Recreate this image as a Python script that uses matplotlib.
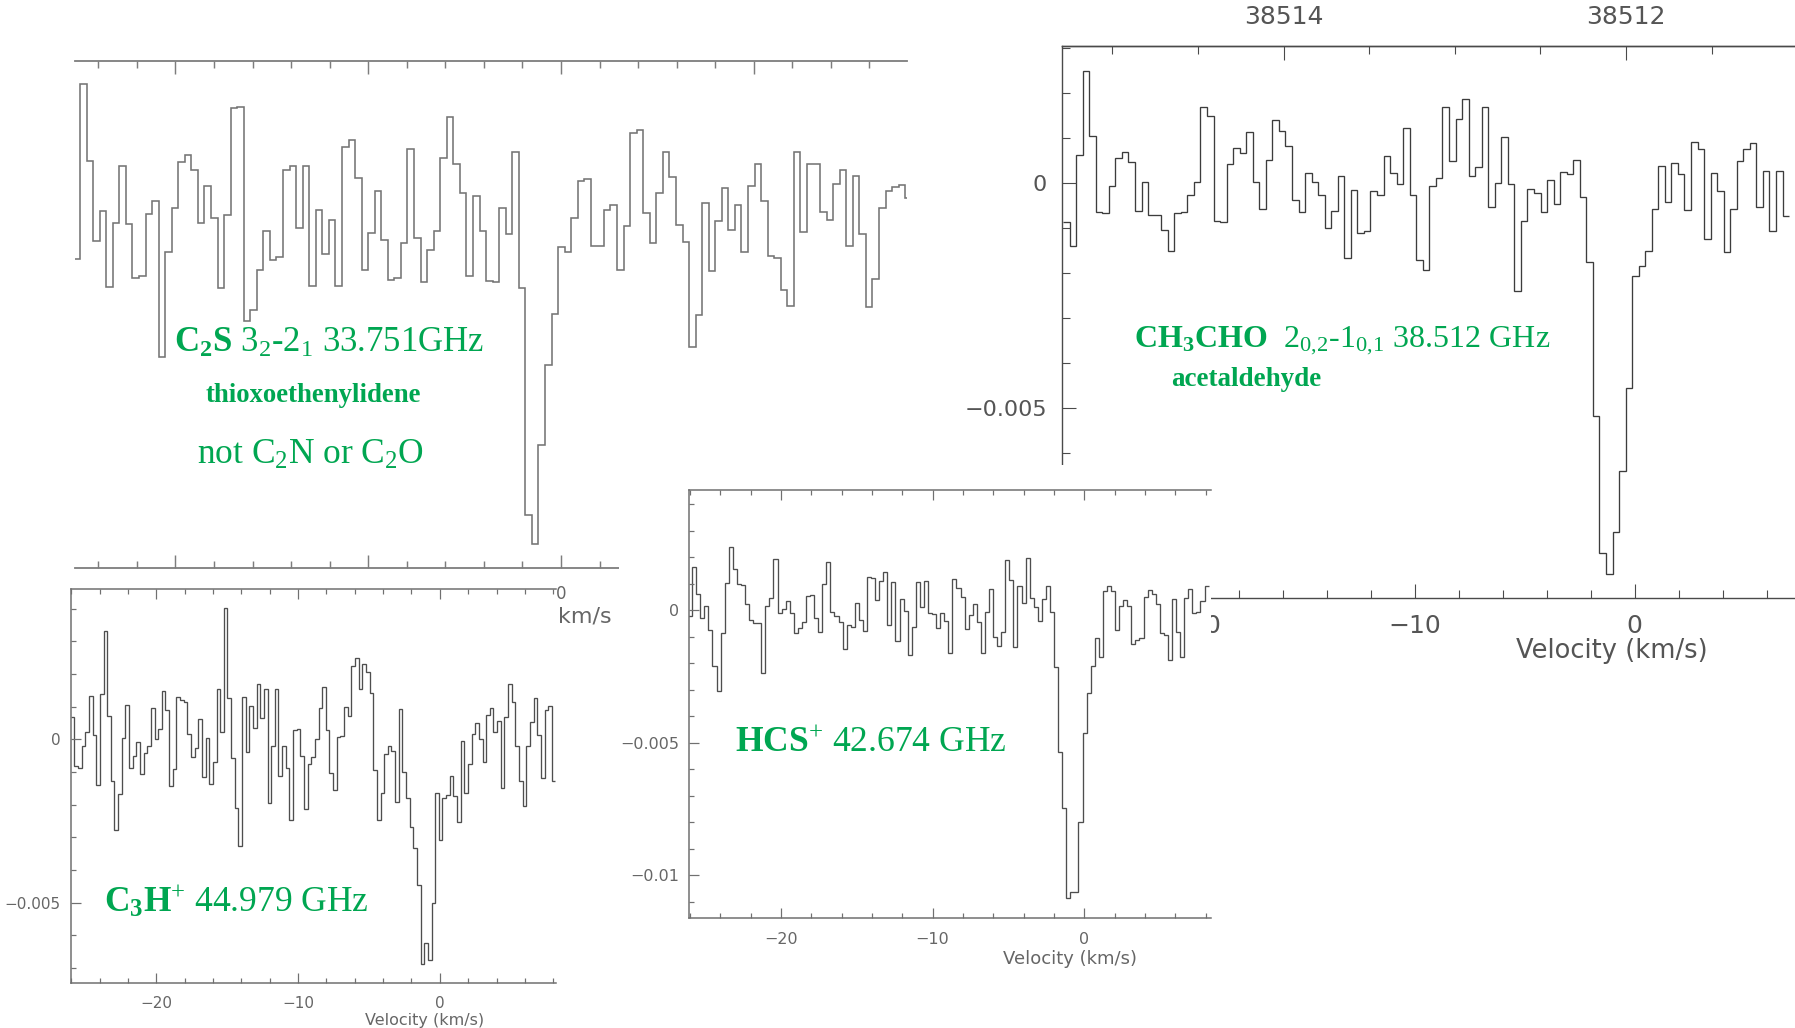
import numpy as np
import matplotlib
matplotlib.use("Agg")
import matplotlib.pyplot as plt
from matplotlib.ticker import MultipleLocator, FixedLocator, FixedFormatter

plt.rcParams['font.family'] = ['DejaVu Sans']
plt.rcParams['mathtext.fontset'] = 'custom'
plt.rcParams['mathtext.rm'] = 'Liberation Serif'
plt.rcParams['mathtext.it'] = 'Liberation Serif:italic'
plt.rcParams['mathtext.bf'] = 'Liberation Serif:bold'
plt.rcParams['axes.unicode_minus'] = True

W, H, DPI = 1795, 1028, 100
GREEN = '#00a651'
SERIF = 'Liberation Serif'

# ---------------- C2S 3_2-2_1, 33.751 GHz (relative units) ----------------
c2s_v0 = -25.12      # centre of first channel (km/s)
c2s_dv = 0.3397      # channel width (km/s)
c2s_T = [-0.23, 4.14, 2.21, 0.21, 0.96, -0.94, 0.67, 2.08, 0.64, -0.71,
         -0.67, 0.89, 1.21, -2.69, -0.07, 1.03, 2.19, 2.36, 2.00, 0.67,
         1.58, 0.79, -0.96, 0.86, 3.53, 3.56, -1.79, -1.50, -0.50, 0.46,
         -0.25, -0.18, 2.00, 2.08, 0.54, 2.08, -0.90, 0.98, -0.11, 0.73,
         -0.92, 2.57, 2.73, 1.79, -0.50, 0.42, 1.46, 0.25, -0.75, -0.71,
         0.17, 2.52, 0.29, -0.81, -0.02, 0.46, 2.28, 3.31, 2.13, 1.42,
         -0.67, 1.35, 0.46, -0.79, -0.82, 1.03, 0.40, 2.44, -0.96, -6.63,
         -7.36, -4.89, -2.89, -1.60, 0.07, -0.06, 0.79, 1.71, 1.77, 0.08,
         0.08, 1.00, 1.11, -0.52, 0.58, 2.92, 2.98, 0.92, 0.17, 1.42,
         2.44, 1.82, 0.61, 0.18, -2.42, -1.63, 1.17, -0.54, 0.71, 1.53,
         0.50, 1.11, -0.06, 1.60, 2.13, 1.21, -0.17, -0.21, -1.00, -1.40,
         2.44, 0.43, 2.15, 2.14, 0.93, 0.73, 1.63, 1.98, 0.10, 1.85,
         0.40, -1.43, -0.73, 1.04, 1.46, 1.57, 1.61, 1.29]
c2s_vticks = [-20, -10, 0, 10]
c2s_vlabels = ['\u221220', '\u221210', '0', '10']

# ---------------- CH3CHO 2(0,2)-1(0,1), 38.512 GHz ----------------
ch_v0 = -25.83
ch_dv = 0.2973
ch_T = [-0.00085, -0.00139, 0.00063, 0.00250, 0.00105, -0.00064, -0.00067, -0.00006, 0.00056, 0.00069,
        0.00048, -0.00061, 0.00004, -0.00070, -0.00070, -0.00104, -0.00150, -0.00065, -0.00063, -0.00026,
        0.00004, 0.00169, 0.00150, -0.00084, -0.00087, 0.00044, 0.00079, 0.00067, 0.00113, 0.00004,
        -0.00056, 0.00052, 0.00141, 0.00117, 0.00083, -0.00037, -0.00064, 0.00022, 0.00002, -0.00027,
        -0.00100, -0.00061, 0.00017, -0.00167, -0.00015, -0.00110, -0.00107, -0.00016, -0.00026, 0.00061,
        0.00024, -0.00002, 0.00124, -0.00026, -0.00170, -0.00193, -0.00005, 0.00011, 0.00170, 0.00050,
        0.00144, 0.00187, 0.00016, 0.00036, 0.00170, -0.00052, 0.00000, 0.00104, -0.00002, -0.00239,
        -0.00083, -0.00013, -0.00022, -0.00063, 0.00007, -0.00046, 0.00026, 0.00021, 0.00052, -0.00030,
        -0.00174, -0.00517, -0.00822, -0.00869, -0.00776, -0.00639, -0.00454, -0.00206, -0.00183, -0.00150,
        -0.00056, 0.00039, -0.00042, 0.00046, 0.00021, -0.00059, 0.00091, 0.00076, -0.00124, 0.00024,
        -0.00016, -0.00153, -0.00058, 0.00050, 0.00076, 0.00089, -0.00052, 0.00027, -0.00105, 0.00027,
        -0.00073]
ch_vticks = [-20, -10, 0]
ch_vlabels = ['\u221220', '\u221210', '0']
ch_yticks = [-0.005, 0.0]
ch_ylabels = ['\u22120.005', '0']
ch_fticks = [38514, 38512]
ch_flabels = ['38514', '38512']
CH_F0 = 38511.95                 # sky frequency (MHz) at v = 0
CH_KMS_PER_MHZ = 299792.458 / CH_F0

# ---------------- HCS+ 42.674 GHz ----------------
hcs_v0 = -25.99
hcs_dv = 0.2681
hcs_T = [-0.00021, 0.00162, 0.00060, -0.00030, 0.00018, -0.00074, -0.00209, -0.00304, -0.00087, 0.00102,
         0.00239, 0.00156, 0.00099, 0.00096, 0.00023, -0.00036, -0.00047, -0.00047, -0.00238, 0.00018,
         0.00045, 0.00194, -0.00009, 0.00004, 0.00035, -0.00009, -0.00087, -0.00068, -0.00043, 0.00055,
         0.00058, -0.00028, -0.00081, 0.00099, 0.00184, -0.00005, -0.00020, -0.00045, -0.00147, -0.00055,
         -0.00062, 0.00026, -0.00036, -0.00077, 0.00127, 0.00121, 0.00039, 0.00111, 0.00143, -0.00055,
         0.00106, -0.00114, 0.00043, -0.00001, -0.00169, -0.00064, 0.00108, 0.00011, 0.00112, -0.00009,
         -0.00015, -0.00068, -0.00011, -0.00040, -0.00160, 0.00117, 0.00086, 0.00052, -0.00070, -0.00018,
         0.00024, -0.00045, -0.00162, -0.00005, 0.00079, -0.00099, -0.00133, -0.00081, 0.00190, 0.00114,
         -0.00137, 0.00092, 0.00029, 0.00199, 0.00045, 0.00014, -0.00040, 0.00042, 0.00093, -0.00008,
         -0.00213, -0.00533, -0.00747, -0.01087, -0.01064, -0.01062, -0.00800, -0.00464, -0.00313, -0.00209,
         -0.00106, -0.00175, 0.00073, 0.00093, 0.00073, -0.00074, 0.00018, 0.00039, 0.00018, -0.00128,
         -0.00112, -0.00106, 0.00052, 0.00077, 0.00060, 0.00023, -0.00084, -0.00093, -0.00187, 0.00043,
         -0.00081, -0.00175, 0.00048, 0.00081, -0.00009, -0.00005, 0.00035, 0.00093]
hcs_vticks = [-20, -10, 0]
hcs_vlabels = ['\u221220', '\u221210', '0']
hcs_yticks = [-0.01, -0.005, 0.0]
hcs_ylabels = ['\u22120.01', '\u22120.005', '0']

# ---------------- C3H+ 44.979 GHz ----------------
c3h_v0 = -25.91
c3h_dv = 0.2571
c3h_T = [0.00067, -0.00082, -0.00089, -0.00020, 0.00021, 0.00131, 0.00013, -0.00140, 0.00139, 0.00332,
         0.00072, -0.00127, -0.00278, -0.00168, 0.00005, 0.00105, -0.00087, -0.00050, -0.00009, -0.00106,
         -0.00041, -0.00022, 0.00095, 0.00000, 0.00031, 0.00148, 0.00090, -0.00142, -0.00092, 0.00129,
         0.00120, 0.00113, 0.00016, -0.00053, -0.00028, 0.00062, -0.00116, 0.00005, -0.00138, -0.00070,
         0.00153, 0.00021, 0.00403, 0.00126, -0.00058, -0.00211, -0.00326, 0.00129, -0.00038, 0.00103,
         0.00034, 0.00168, 0.00066, 0.00154, -0.00194, -0.00022, 0.00154, -0.00112, -0.00022, -0.00087,
         -0.00247, 0.00029, 0.00032, -0.00051, -0.00214, -0.00076, -0.00053, 0.00000, 0.00097, 0.00159,
         0.00027, -0.00104, -0.00155, 0.00008, 0.00010, 0.00100, 0.00071, 0.00224, 0.00248, 0.00153,
         0.00230, 0.00205, 0.00143, -0.00094, -0.00247, -0.00165, -0.00046, -0.00020, -0.00035, -0.00191,
         0.00092, -0.00101, -0.00181, -0.00269, -0.00334, -0.00446, -0.00689, -0.00624, -0.00676, -0.00502,
         -0.00165, -0.00308, -0.00181, -0.00172, -0.00111, -0.00173, -0.00252, -0.00005, -0.00165, -0.00076,
         0.00015, 0.00051, 0.00001, -0.00071, 0.00074, 0.00097, 0.00023, 0.00056, -0.00148, 0.00069,
         0.00168, 0.00113, -0.00022, -0.00128, -0.00203, -0.00022, 0.00052, 0.00126, 0.00013, -0.00117,
         0.00090, 0.00103, -0.00128]
c3h_vticks = [-20, -10, 0]
c3h_vlabels = ['\u221220', '\u221210', '0']
c3h_yticks = [-0.005, 0.0]
c3h_ylabels = ['\u22120.005', '0']


def rect(x0, y0, x1, y1):
    """Figure-fraction rectangle from pixel corners measured from the top-left."""
    return [x0 / W, 1 - y1 / H, (x1 - x0) / W, (y1 - y0) / H]


def fxy(x, y):
    return x / W, 1 - y / H


def edges(v0, dv, n):
    return v0 - dv / 2 + dv * np.arange(n + 1)


def style(ax, color, lw, major, minor, size, lcolor, pad):
    for sp in ax.spines.values():
        sp.set_color(color)
        sp.set_linewidth(lw)
    ax.tick_params(which='both', direction='in', color=color, width=lw * 0.8,
                   labelsize=size, labelcolor=lcolor, pad=pad)
    ax.tick_params(which='major', length=major)
    ax.tick_params(which='minor', length=minor)


def blank(r):
    b = fig.add_axes(r, facecolor='white')
    b.set_xticks([])
    b.set_yticks([])
    for sp in b.spines.values():
        sp.set_visible(False)
    return b


def set_ticks(axis, ticks, labels, minor):
    axis.set_major_locator(FixedLocator(ticks))
    axis.set_major_formatter(FixedFormatter(labels))
    axis.set_minor_locator(MultipleLocator(minor))


fig = plt.figure(figsize=(W / DPI, H / DPI), dpi=DPI)
fig.patch.set_facecolor('white')

# ---- C2S panel (top left) ----
ax1 = fig.add_axes(rect(75, 60.5, 906.7, 568.3), facecolor='none')
ax1.stairs(c2s_T, edges(c2s_v0, c2s_dv, len(c2s_T)), baseline=None,
           color='#747474', lw=1.15)
ax1.set_xlim(-25.21, 17.93)
ax1.set_ylim(-7.96, 4.725)
style(ax1, '#7d7d7d', 1.3, 9.4, 4.7, 12, '#666666', 12)
ax1.spines['left'].set_visible(False)
ax1.spines['right'].set_visible(False)
ax1.set_yticks([])
set_ticks(ax1.xaxis, c2s_vticks, c2s_vlabels, 2)
ax1.tick_params(axis='x', which='both', top=True, bottom=True)
ax1.text(*fxy(558, 617), 'km/s', transform=fig.transFigure, ha='left',
         va='center', fontsize=16, color='#666666')
ax1.text(*fxy(174, 352), r'$\mathbf{C_2S}$ $3_2$-$2_1$ 33.751GHz',
         transform=fig.transFigure, ha='left', va='baseline', fontsize=25,
         color=GREEN, family=SERIF)
ax1.text(*fxy(313, 402), 'thioxoethenylidene', transform=fig.transFigure,
         ha='center', va='baseline', fontsize=19.3, fontweight='bold',
         color=GREEN, family=SERIF)
ax1.text(*fxy(311, 464), r'not C$_2$N or C$_2$O', transform=fig.transFigure,
         ha='center', va='baseline', fontsize=25.5, color=GREEN, family=SERIF)

# ---- CH3CHO panel (top right) ----
ax2 = fig.add_axes(rect(1062.4, 45.8, 1795, 597.6), facecolor='white')
ax2.stairs(ch_T, edges(ch_v0, ch_dv, len(ch_T)), baseline=None,
           color='#3c3c3c', lw=0.95)
ax2.set_xlim(-26.01, 7.29)
ax2.set_ylim(-0.009207, 0.003056)
style(ax2, '#4a4a4a', 1.0, 10, 5.5, 18, '#555555', 12)
ax2.spines['right'].set_visible(False)
set_ticks(ax2.xaxis, ch_vticks, ch_vlabels, 2)
set_ticks(ax2.yaxis, ch_yticks, ch_ylabels, 0.001)
ax2.tick_params(axis='x', which='both', top=False)
ax2.tick_params(axis='y', which='both', right=False, pad=11, labelsize=16)


def v_to_f(v):
    return CH_F0 - np.asarray(v) / CH_KMS_PER_MHZ


def f_to_v(f):
    return (CH_F0 - np.asarray(f)) * CH_KMS_PER_MHZ


sec = ax2.secondary_xaxis('top', functions=(v_to_f, f_to_v))
set_ticks(sec.xaxis, ch_fticks, ch_flabels, 0.5)
sec.tick_params(which='both', direction='in', color='#4a4a4a', width=0.8,
                labelsize=18, labelcolor='#555555', pad=12)
sec.tick_params(which='major', length=10)
sec.tick_params(which='minor', length=5.5)
for sp in sec.spines.values():
    sp.set_color('#4a4a4a')
    sp.set_linewidth(1.0)
ax2.text(*fxy(1612, 651), 'Velocity (km/s)', transform=fig.transFigure,
         ha='center', va='center', fontsize=18.5, color='#555555')
ax2.text(*fxy(1134, 347), r'$\mathbf{CH_3CHO}$  $2_{0,\!2}$-$1_{0,\!1}$ 38.512 GHz',
         transform=fig.transFigure, ha='left', va='baseline', fontsize=23,
         color=GREEN, family=SERIF)
ax2.text(*fxy(1246, 386), 'acetaldehyde', transform=fig.transFigure,
         ha='center', va='baseline', fontsize=19.5, fontweight='bold',
         color=GREEN, family=SERIF)

# ---- HCS+ panel (bottom middle) ----
blank(rect(619, 465, 1210.7, 1028))
ax3 = fig.add_axes(rect(688.7, 489.7, 1210.7, 918.3), facecolor='white')
ax3.stairs(hcs_T, edges(hcs_v0, hcs_dv, len(hcs_T)), baseline=None,
           color='#4e4e4e', lw=0.95)
ax3.set_xlim(-26.08, 8.33)
ax3.set_ylim(-0.01162, 0.004553)
style(ax3, '#707070', 1.1, 7.5, 3.6, 11.5, '#666666', 7)
ax3.spines['right'].set_visible(False)
set_ticks(ax3.xaxis, hcs_vticks, hcs_vlabels, 2)
set_ticks(ax3.yaxis, hcs_yticks, hcs_ylabels, 0.001)
ax3.tick_params(axis='x', which='both', top=True, pad=10)
ax3.tick_params(axis='y', which='both', right=False)
ax3.text(*fxy(1070, 959), 'Velocity (km/s)', transform=fig.transFigure,
         ha='center', va='center', fontsize=13, color='#666666')
ax3.text(*fxy(735, 752), r'$\mathbf{HCS}^{+}$ 42.674 GHz',
         transform=fig.transFigure, ha='left', va='baseline', fontsize=25.6,
         color=GREEN, family=SERIF)

# ---- C3H+ panel (bottom left) ----
blank(rect(0, 575, 556, 1028))
ax4 = fig.add_axes(rect(70.7, 589.3, 555.5, 982.7), facecolor='white')
ax4.stairs(c3h_T, edges(c3h_v0, c3h_dv, len(c3h_T)), baseline=None,
           color='#4e4e4e', lw=0.95)
ax4.set_xlim(-26.04, 8.16)
ax4.set_ylim(-0.00745, 0.00459)
style(ax4, '#707070', 1.1, 7.5, 3.6, 11, '#666666', 7)
ax4.spines['right'].set_visible(False)
set_ticks(ax4.xaxis, c3h_vticks, c3h_vlabels, 2)
set_ticks(ax4.yaxis, c3h_yticks, c3h_ylabels, 0.001)
ax4.tick_params(axis='x', which='both', top=True, pad=9.5)
ax4.tick_params(axis='y', which='both', right=False)
ax4.text(*fxy(425, 1020), 'Velocity (km/s)', transform=fig.transFigure,
         ha='center', va='center', fontsize=11.5, color='#666666')
ax4.text(*fxy(104, 912), r'$\mathbf{C_3H}^{+}$ 44.979 GHz',
         transform=fig.transFigure, ha='left', va='baseline', fontsize=25.5,
         color=GREEN, family=SERIF)

fig.savefig('out.png', dpi=DPI, facecolor='white')
